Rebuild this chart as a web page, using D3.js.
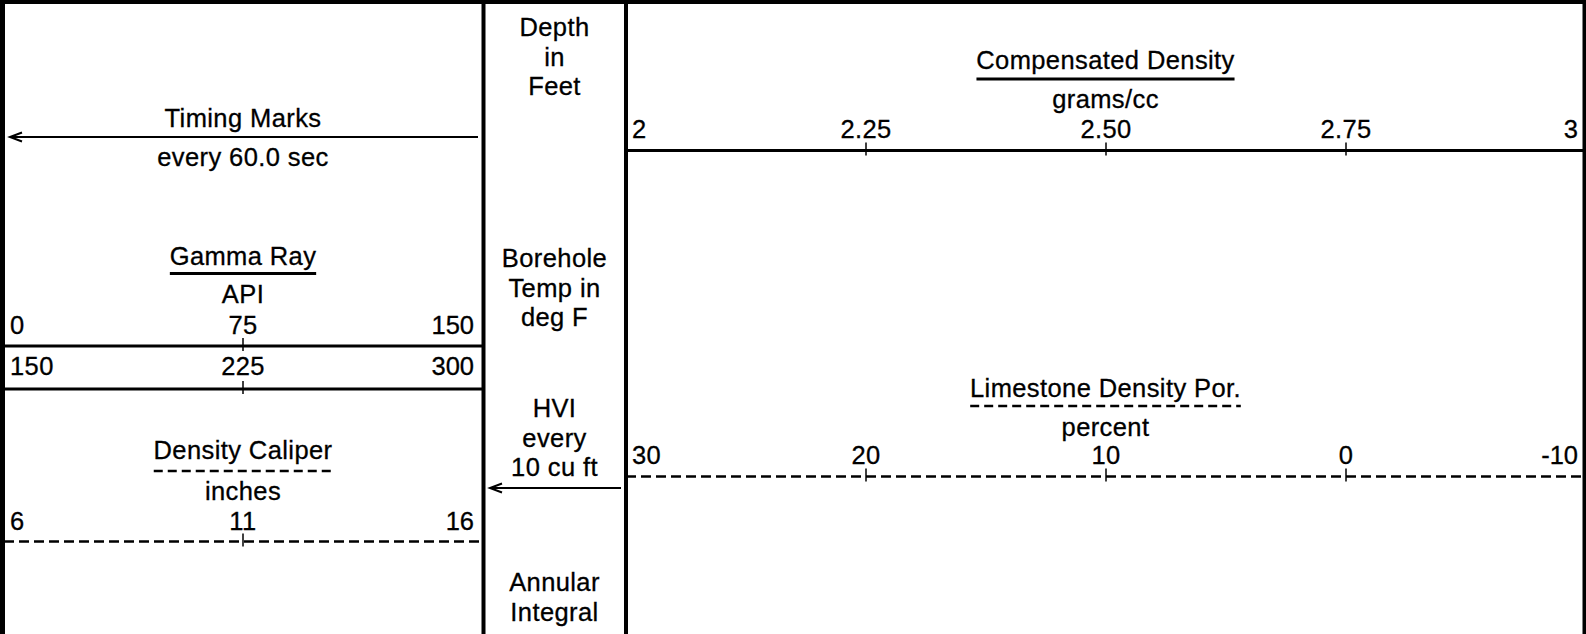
<!DOCTYPE html>
<html><head><meta charset="utf-8">
<script src="https://cdn.jsdelivr.net/npm/d3@7"></script>
<style>html,body{margin:0;padding:0;background:#fff;overflow:hidden}</style>
</head><body>
<svg id="c" width="1586" height="634"></svg>
<script>
// ---- data ----
const gammaValues = [0, 75, 150];
const gammaLabels = ["0", "75", "150"];
const gammaBackupValues = [150, 225, 300];
const gammaBackupLabels = ["150", "225", "300"];
const caliperValues = [6, 11, 16];
const caliperLabels = ["6", "11", "16"];
const densityValues = [2, 2.25, 2.5, 2.75, 3];
const densityLabels = ["2", "2.25", "2.50", "2.75", "3"];
const porosityValues = [30, 20, 10, 0, -10];
const porosityLabels = ["30", "20", "10", "0", "-10"];
const depthColumnLabels = [["Depth", "in", "Feet"], ["Borehole", "Temp in", "deg F"], ["HVI", "every", "10 cu ft"], ["Annular", "Integral"]];
const curveTitles = ["Gamma Ray", "Density Caliper", "Compensated Density", "Limestone Density Por."];
const curveUnits = ["API", "inches", "grams/cc", "percent"];
const markerTitles = ["Timing Marks", "every 60.0 sec"];

// ---- layout ----
const W = 1586, H = 634;
const FONT = "'Liberation Sans', Arial, Helvetica, sans-serif";
const FS = 25.5, LS = 0.4;
const leftRange = [4, 482];
const rightRange = [626, 1586];
const depthCol = [483, 626];
const leftCx = (leftRange[0] + leftRange[1]) / 2;
const rightCx = (rightRange[0] + 1585) / 2;
const midCx = (depthCol[0] + depthCol[1]) / 2;

const svg = d3.select("#c");
svg.append("rect").attr("width", W).attr("height", H).attr("fill", "#fff");

function txt(x, y, s, anchor) {
  return svg.append("text").attr("x", x).attr("y", y).text(s)
    .attr("font-family", FONT).attr("font-size", FS).attr("letter-spacing", LS)
    .attr("fill", "#000").attr("stroke", "#000").attr("stroke-width", 0.3)
    .attr("text-anchor", anchor || "middle");
}

function hline(x1, x2, y, w, dash) {
  const l = svg.append("line").attr("x1", x1).attr("x2", x2).attr("y1", y).attr("y2", y)
    .attr("stroke", "#000").attr("stroke-width", w);
  if (dash) l.attr("stroke-dasharray", dash);
  return l;
}

function title(cx, y, s, uy, dash) {
  const t = txt(cx, y, s);
  const len = t.node().getComputedTextLength() - LS;
  hline(cx - len / 2, cx + len / 2, uy, dash ? 2.5 : 3, dash ? "9,5" : null);
}

function scaleRow(values, labels, range, yLine, yLabel, dash) {
  const s = d3.scaleLinear().domain([values[0], values[values.length - 1]]).range(range);
  hline(range[0], range[1], yLine, dash ? 2.5 : 3, dash ? "10,5" : null);
  values.forEach((v, i) => {
    const last = i === values.length - 1;
    if (i > 0 && !last) {
      svg.append("line").attr("x1", s(v)).attr("x2", s(v))
        .attr("y1", yLine - 8).attr("y2", yLine + 5)
        .attr("stroke", "#000").attr("stroke-width", 1.5);
    }
    const x = i === 0 ? s(v) + 6 : last ? s(v) - 8 : s(v);
    const a = i === 0 ? "start" : last ? "end" : "middle";
    const t = txt(x, yLabel, labels[i], a);
    if (last) t.attr("letter-spacing", 0);
  });
}

function arrow(xTip, xEnd, y) {
  hline(xTip, xEnd, y, 2);
  svg.append("path").attr("d", `M${xTip + 12},${y - 4.5}L${xTip},${y}L${xTip + 12},${y + 4.5}`)
    .attr("fill", "none").attr("stroke", "#000").attr("stroke-width", 2);
}

// ---- left track ----
txt(leftCx, 126.5, markerTitles[0]);
arrow(10, 478, 137);
txt(leftCx, 165.5, markerTitles[1]);

title(leftCx, 265, curveTitles[0], 273.5, false);
txt(leftCx, 303, curveUnits[0]);
scaleRow(gammaValues, gammaLabels, leftRange, 346, 334, false);
scaleRow(gammaBackupValues, gammaBackupLabels, leftRange, 389, 375, false);

title(leftCx, 459, curveTitles[1], 471, true);
txt(leftCx, 499.5, curveUnits[1]);
scaleRow(caliperValues, caliperLabels, leftRange, 541.5, 529.5, true);

// ---- depth column ----
const groupTop = [36, 267, 417, 591];
depthColumnLabels.forEach((g, gi) => {
  g.forEach((s, li) => txt(midCx, groupTop[gi] + li * 29.5, s));
});
arrow(490, 621, 488);

// ---- right track ----
title(rightCx, 69, curveTitles[2], 79, false);
txt(rightCx, 108, curveUnits[2]);
scaleRow(densityValues, densityLabels, rightRange, 150.5, 137.5, false);

title(rightCx, 396.5, curveTitles[3], 406, true);
txt(rightCx, 436, curveUnits[3]);
scaleRow(porosityValues, porosityLabels, rightRange, 476.5, 464, true);

// ---- frame ----
hline(0, W, 2, 4);
[2.5, 483.5, 626, 1584.5].forEach((x, i) => {
  svg.append("line").attr("x1", x).attr("x2", x).attr("y1", 0).attr("y2", H)
    .attr("stroke", "#000").attr("stroke-width", i === 0 ? 5 : 4);
});
</script>
</body></html>
